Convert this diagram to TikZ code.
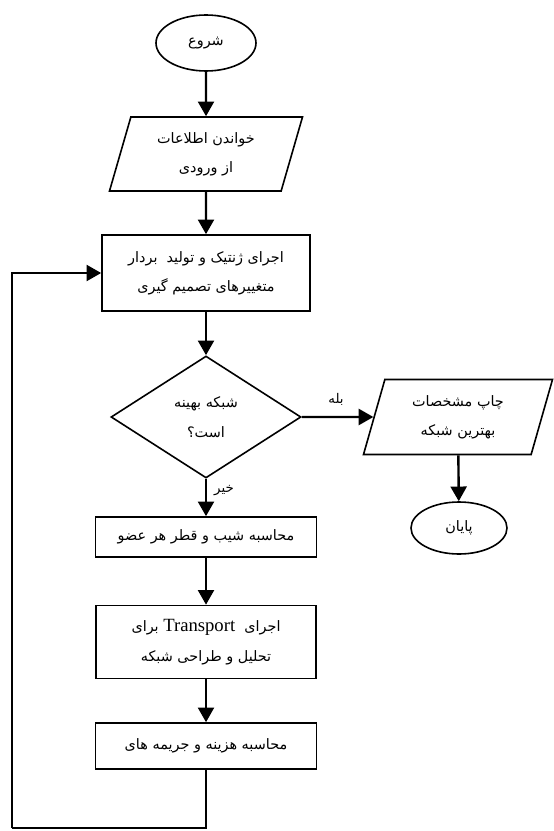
\documentclass[tikz,border=0pt]{standalone}
\usepackage{fontspec}
\setmainfont{Liberation Serif}
\newfontfamily\farsifont[Script=Arabic]{DejaVu Sans}
\TeXXeTstate=1
\usetikzlibrary{shapes.geometric, arrows.meta}
\newcommand{\fa}[1]{{\farsifont\beginR #1\endR}}

\tikzset{
  flowtext/.style={font=\fontsize{10.8}{22}\selectfont, align=center, inner sep=0pt},
  termbox/.style={draw, ellipse, line width=1.2pt, flowtext},
  iobox/.style={draw, trapezium, trapezium left angle=64, trapezium right angle=116,
    trapezium stretches body=true, line width=1.2pt, flowtext},
  procbox/.style={draw, rectangle, line width=1.2pt, flowtext},
  decbox/.style={draw, diamond, line width=1.2pt, flowtext},
  flowarrow/.style={line width=1.8pt, -{Triangle[length=11pt, width=12pt]}},
  flowline/.style={line width=1.8pt},
  lbl/.style={font=\fontsize{10}{12}\selectfont, inner sep=0pt}
}

\begin{document}
\begin{tikzpicture}[x=0.75pt, y=-0.75pt]
  \useasboundingbox (0,0) rectangle (553,831);

  % main column
  \node[termbox, minimum width=75pt, minimum height=42pt] (start) at (206,43) {\fa{شروع}};
  \node[iobox, minimum width=144.75pt, minimum height=55.5pt] (readin) at (206,154)
    {\fa{خواندن اطلاعات}\\\fa{از ورودی}};
  \node[procbox, minimum width=156pt, minimum height=57pt] (genetic) at (206,273)
    {\fa{اجرای ژنتیک و تولید \ بردار}\\\fa{متغییرهای تصمیم گیری}};
  \node[decbox, minimum width=142.5pt, minimum height=91.5pt] (optimal) at (206,417)
    {\fa{شبکه بهینه}\\\fa{است؟}};
  \node[procbox, minimum width=165.75pt, minimum height=30pt] (slope) at (206,537)
    {\fa{محاسبه شیب و قطر هر عضو}};
  \node[procbox, minimum width=165pt, minimum height=54.75pt] (transport) at (206,642)
    {\fa{اجرای \ \beginL{\rmfamily\fontsize{14}{16}\selectfont Transport}\endL{} برای}\\\fa{تحلیل و طراحی شبکه}};
  \node[procbox, minimum width=165.75pt, minimum height=34.5pt] (cost) at (206,746)
    {\fa{محاسبه هزینه و جریمه های}};

  % right branch
  \node[iobox, minimum width=141.75pt, minimum height=56.25pt] (printout) at (458,417)
    {\fa{چاپ مشخصات}\\\fa{بهترین شبکه}};
  \node[termbox, minimum width=72pt, minimum height=39pt] (finish) at (459,528) {\fa{پایان}};

  % labels
  \node[lbl] (yeslbl) at (336,399) {\fa{بله}};
  \node[lbl] (nolbl) at (224,491) {\fa{خیر}};

  % loop back
  \coordinate (loopbot) at (206,828);
  \coordinate (loopleft) at (12,828);

  \draw[flowarrow] (start) -- (readin);
  \draw[flowarrow] (readin) -- (genetic);
  \draw[flowarrow] (genetic) -- (optimal);
  \draw[flowarrow] (optimal) -- (slope);
  \draw[flowarrow] (slope) -- (transport);
  \draw[flowarrow] (transport) -- (cost);
  \draw[flowarrow] (optimal.east) -- (printout);
  \draw[flowarrow] (printout) -- (finish);
  \draw[flowline] (cost.south) -- (loopbot) -- (loopleft);
  \draw[flowarrow] (loopleft) |- (genetic.west);
\end{tikzpicture}
\end{document}
